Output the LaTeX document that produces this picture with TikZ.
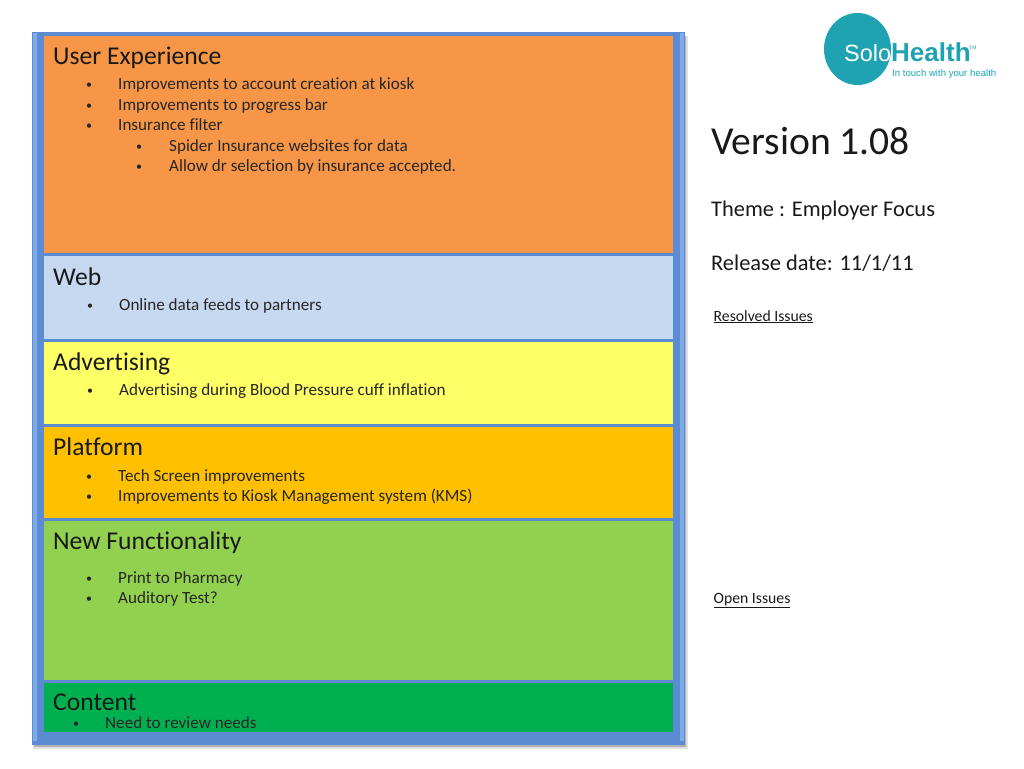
\documentclass[tikz,border=0pt]{standalone}
\usepackage{fontspec}
\setmainfont{Carlito}[Ligatures = NoCommon]
\newfontfamily\logofont{Liberation Sans}
\definecolor{framec}{HTML}{5B8BD3}
\definecolor{edgec}{HTML}{7FAAE8}
\definecolor{logoc}{HTML}{1FA3B3}
\tikzset{
	head/.style = {anchor = base west, inner sep = 0, font = \fontsize{25.6}{25.6}\selectfont, text = black!90},
	item/.style = {anchor = base west, inner sep = 0, font = \fontsize{17.1}{17.1}\selectfont, text = black!85},
	dot/.style = {anchor = base west, inner sep = 0, yshift = 1, font = \fontsize{12}{12}\selectfont, text = black!85},
	side/.style = {anchor = base west, inner sep = 0, text = black!90},
	band/.style = {anchor = north west, inner sep = 0, minimum width = 629},
	logotext/.style = {anchor = base west, inner sep = 0, text = logoc}
}
\begin{document}
\begin{tikzpicture}[x = 1pt, y = -1pt]
	\useasboundingbox (0, 0) rectangle (1024, 768);
	% frame with its shadow
	\fill[black!12] (33, 36) rectangle (688, 749);
	\fill[black!30] (34, 36) rectangle (686, 747);
	\fill[framec] (32, 32) rectangle (685, 745);
	\fill[edgec] (33, 33) rectangle (37, 741);
	\fill[edgec] (680, 33) rectangle (684, 741);
	% bands
	\foreach \name/\y/\h/\fillc/\title/\ty in {ux/36/217/F79646/User Experience/64, web/256/83/C6D9F1/Web/285, ads/342/82/FFFF66/Advertising/370, plat/427/91/FFC000/Platform/455, func/521/159/92D050/New Functionality/549.5, cont/683/49/00B050/Content/710}{
		\definecolor{bandc}{HTML}{\fillc}
		\node[band, fill = bandc, minimum height = \h] (\name) at (44, \y) {};
		\node[head] (\name title) at (53, \ty) {\title};}
	% items
	\foreach \i/\bx/\x/\y/\txt in {a/86/118/89/Improvements to account creation at kiosk, b/86/118/110/Improvements to progress bar, c/86/118/130/Insurance filter, d/136/169/151/Spider Insurance websites for data, e/136/169/171/Allow dr selection by insurance accepted., f/87/119/310/Online data feeds to partners, g/87/119/395/Advertising during Blood Pressure cuff inflation, h/86/118/481/Tech Screen improvements, j/86/118/501/Improvements to Kiosk Management system (KMS), k/86/118/583/Print to Pharmacy, l/86/118/603/Auditory Test?, m/73/105/728/Need to review needs}{
		\node[dot] (bullet\i) at (\bx, \y) {\textbullet};
		\node[item] (item\i) at (\x, \y) {\txt};}
	% right column
	\node[side, font = \fontsize{39.6}{39.6}\selectfont] (version) at (711, 154) {Version 1.08};
	\node[side, font = \fontsize{22.4}{22.4}\selectfont] (theme) at (711, 216) {Theme : Employer Focus};
	\node[side, font = \fontsize{22.4}{22.4}\selectfont] (release) at (711, 270) {Release date: 11/1/11};
	\node[side, font = \fontsize{15.7}{15.7}\selectfont] (resolved) at (713.5, 321) {\underline{Resolved Issues}};
	\node[side, font = \fontsize{15.7}{15.7}\selectfont] (open) at (713.5, 603) {\underline{Open Issues}};
	% logo
	\begin{scope}
		\clip (810, 13) rectangle (900, 90);
		\fill[logoc] (857.5, 49) ellipse (33.5 and 36);
	\end{scope}
	\node[logotext, font = \logofont\fontsize{23.5}{23.5}\selectfont, text = white] (solo) at (844, 62) {Solo};
	\node[logotext, font = \logofont\bfseries\fontsize{26}{26}\selectfont] (health) at (891, 62) {Health};
	\node[logotext, font = \logofont\fontsize{9.6}{9.6}\selectfont] (slogan) at (892, 76) {In touch with your health};
	\node[logotext, font = \logofont\fontsize{5}{5}\selectfont] (tm) at (969, 49) {TM};
\end{tikzpicture}
\end{document}
